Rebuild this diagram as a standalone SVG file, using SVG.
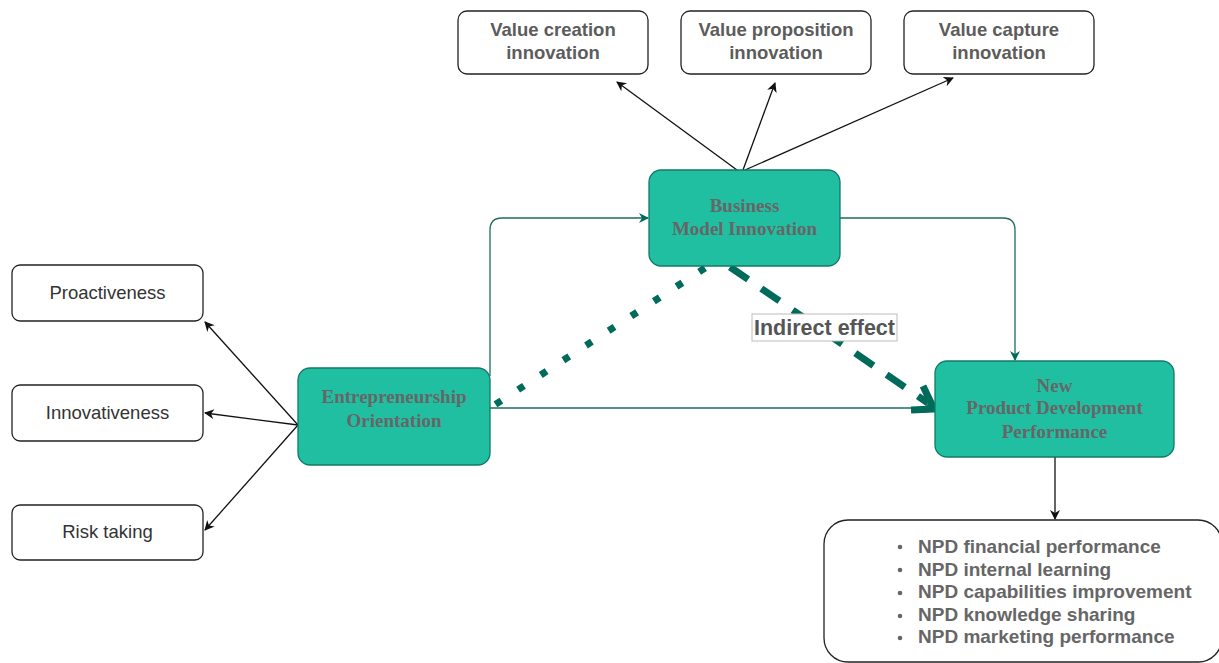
<svg xmlns="http://www.w3.org/2000/svg" width="1219" height="663" viewBox="0 0 1219 663">
<defs>
<style>
.wbox{fill:#fff;stroke:#222;stroke-width:1.3}
.gbox{fill:#21bfa2;stroke:#137a66;stroke-width:1.3}
.tb{font-family:"Liberation Sans",Arial,sans-serif;font-weight:bold;font-size:18.5px;fill:#5c5c5c;text-anchor:middle}
.tn{font-family:"Liberation Sans",Arial,sans-serif;font-size:18.5px;fill:#333;text-anchor:middle}
.ts{font-family:"Liberation Serif","Times New Roman",serif;font-weight:bold;font-size:19px;fill:#666;text-anchor:middle}
.tl{font-family:"Liberation Sans",Arial,sans-serif;font-weight:bold;font-size:19px;fill:#666}
.blk{fill:none;stroke:#111;stroke-width:1.3}
.grn{fill:none;stroke:#1d6e5e;stroke-width:1.3}
</style>
<marker id="ab" markerWidth="12" markerHeight="12" refX="9" refY="5" orient="auto" markerUnits="userSpaceOnUse">
<path d="M0,0 L10,5 L0,10 L3,5 Z" fill="#111"/>
</marker>
<marker id="ag" markerWidth="12" markerHeight="12" refX="9" refY="5" orient="auto" markerUnits="userSpaceOnUse">
<path d="M0,0 L10,5 L0,10 L3,5 Z" fill="#006b5a"/>
</marker>
</defs>
<g id="connectors">
<line class="blk" x1="737" y1="170" x2="617" y2="82" marker-end="url(#ab)"/>
<line class="blk" x1="743" y1="170" x2="775" y2="83" marker-end="url(#ab)"/>
<line class="blk" x1="745" y1="170" x2="953" y2="78" marker-end="url(#ab)"/>
<path class="grn" d="M490,376 L490,230 Q490,218 502,218 L648,218" marker-end="url(#ag)"/>
<path class="grn" d="M840,218 L1003,218 Q1015,218 1015,230 L1015,360" marker-end="url(#ag)"/>
<line class="grn" x1="490" y1="408" x2="934" y2="408" marker-end="url(#ag)"/>
<line x1="705" y1="268" x2="490" y2="408" stroke="#006b5a" stroke-width="7" stroke-dasharray="7 20"/>
<line x1="730" y1="267" x2="928" y2="403" stroke="#006b5a" stroke-width="7" stroke-dasharray="22 16"/>
<path d="M911,410 L934,409 L923,386" fill="none" stroke="#006b5a" stroke-width="7" stroke-linejoin="miter"/>
<line class="blk" x1="298" y1="425" x2="205" y2="322" marker-end="url(#ab)"/>
<line class="blk" x1="298" y1="425" x2="205" y2="413" marker-end="url(#ab)"/>
<line class="blk" x1="298" y1="425" x2="205" y2="530" marker-end="url(#ab)"/>
<line class="blk" x1="1055" y1="457" x2="1055" y2="519" marker-end="url(#ab)"/>
</g>
<g id="label-indirect">
<rect x="752" y="314" width="145" height="27" fill="#fff" stroke="#bbb" stroke-width="1"/>
<text x="824.5" y="334.5" class="tb" style="font-size:21.5px;fill:#555">Indirect effect</text>
</g>
<g id="value-creation">
<rect class="wbox" x="458" y="11" width="190" height="63" rx="9"/>
<text class="tb" x="553" y="36">Value creation</text>
<text class="tb" x="553" y="59">innovation</text>
</g>
<g id="value-proposition">
<rect class="wbox" x="681" y="11" width="190" height="63" rx="9"/>
<text class="tb" x="776" y="36">Value proposition</text>
<text class="tb" x="776" y="59">innovation</text>
</g>
<g id="value-capture">
<rect class="wbox" x="904" y="11" width="190" height="63" rx="9"/>
<text class="tb" x="999" y="36">Value capture</text>
<text class="tb" x="999" y="59">innovation</text>
</g>
<g id="bmi">
<rect class="gbox" x="649" y="170" width="191" height="96" rx="12"/>
<text class="ts" x="744.5" y="212">Business</text>
<text class="ts" x="744.5" y="235">Model Innovation</text>
</g>
<g id="eo">
<rect class="gbox" x="298" y="368" width="192" height="97" rx="12"/>
<text class="ts" x="394" y="403">Entrepreneurship</text>
<text class="ts" x="394" y="427">Orientation</text>
</g>
<g id="npd">
<rect class="gbox" x="935" y="361" width="239" height="96" rx="12"/>
<text class="ts" x="1054.5" y="392">New</text>
<text class="ts" x="1054.5" y="414">Product Development</text>
<text class="ts" x="1054.5" y="438">Performance</text>
</g>
<g id="proactiveness">
<rect class="wbox" x="12" y="265" width="191" height="56" rx="8"/>
<text class="tn" x="107.5" y="299">Proactiveness</text>
</g>
<g id="innovativeness">
<rect class="wbox" x="12" y="385" width="191" height="56" rx="8"/>
<text class="tn" x="107.5" y="419">Innovativeness</text>
</g>
<g id="risk-taking">
<rect class="wbox" x="12" y="505" width="191" height="55" rx="8"/>
<text class="tn" x="107.5" y="538">Risk taking</text>
</g>
<g id="npd-list">
<rect class="wbox" x="824" y="520" width="398" height="142" rx="24"/>
<g fill="#666">
<circle cx="900" cy="547" r="2.3"/>
<circle cx="900" cy="570" r="2.3"/>
<circle cx="900" cy="593" r="2.3"/>
<circle cx="900" cy="616" r="2.3"/>
<circle cx="900" cy="638" r="2.3"/>
</g>
<text class="tl" x="918" y="553">NPD financial performance</text>
<text class="tl" x="918" y="576">NPD internal learning</text>
<text class="tl" x="918" y="598">NPD capabilities improvement</text>
<text class="tl" x="918" y="621">NPD knowledge sharing</text>
<text class="tl" x="918" y="643">NPD marketing performance</text>
</g>
</svg>
